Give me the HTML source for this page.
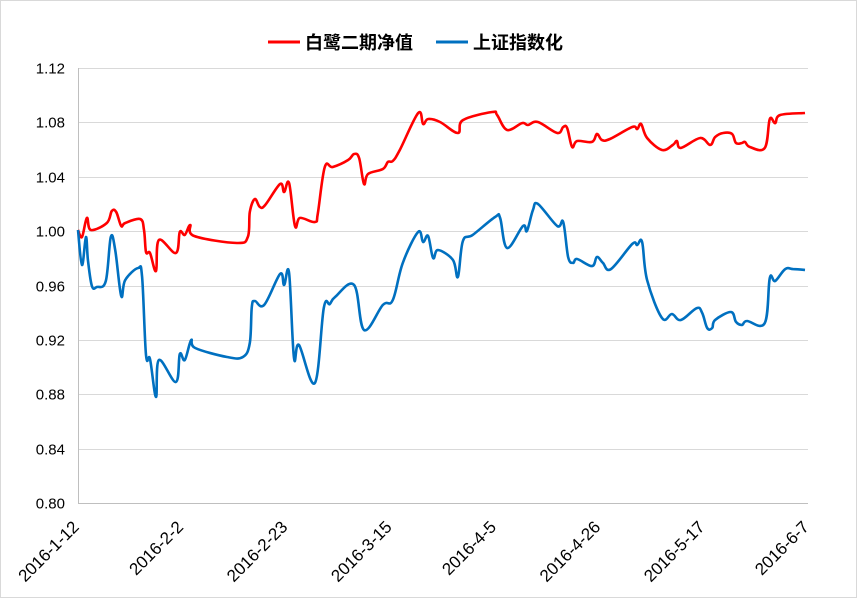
<!DOCTYPE html>
<html><head><meta charset="utf-8"><style>
html,body{margin:0;padding:0;background:#fff}
svg{display:block}
text{font-family:"Liberation Sans","Noto Sans CJK SC",sans-serif}
</style></head><body>
<svg id="chart" width="857" height="598" viewBox="0 0 857 598" xmlns="http://www.w3.org/2000/svg">
<rect x="0.5" y="0.5" width="856" height="597" fill="#fff" stroke="#d9d9d9"/>
<g id="grid"></g>
<g id="yticks"></g>
<g id="xticks"></g>
<g id="series"></g>
<g>
  <g>
    <line x1="268" y1="42" x2="300" y2="42" stroke="#ff0000" stroke-width="3"/>
    <text x="305" y="49" font-size="18" font-weight="bold" fill="#000">白鹭二期净值</text>
  </g>
  <g>
    <line x1="436" y1="42" x2="468" y2="42" stroke="#0070c0" stroke-width="3"/>
    <text x="473" y="49" font-size="18" font-weight="bold" fill="#000">上证指数化</text>
  </g>
</g>
</svg>
<script>
const yTicks = [0.80,0.84,0.88,0.92,0.96,1.00,1.04,1.08,1.12];
const yTickLabels = ["0.80","0.84","0.88","0.92","0.96","1.00","1.04","1.08","1.12"];
const xTickDays = [0,21,42,63,84,105,126,147];
const xTickLabels = ["2016-1-12","2016-2-2","2016-2-23","2016-3-15","2016-4-5","2016-4-26","2016-5-17","2016-6-7"];
const redDays = [0,.8,1.8,2.6,5.8,6.8,7.7,8.7,9.5,12.5,13.3,13.7,14.5,15.7,16.3,19.7,20.5,21.5,22.6,23.4,32.0,34.2,34.6,35.6,36.6,37.7,40.7,41.5,42.5,43.7,44.7,47.7,48.3,49.7,51.3,54.4,55.6,56.6,57.6,58.4,61.4,62.4,63.4,64.8,68.5,69.5,70.5,72.9,76.5,77.5,83.4,84.4,86.4,89.4,90.6,92.6,96.5,97.7,98.5,99.5,100.5,103.5,104.5,105.5,107.1,111.6,112.6,113.4,114.6,117.6,119.8,120.6,121.4,125.3,127.3,128.3,129.9,131.7,132.5,133.7,134.3,135.3,138.3,139.3,140.4,141.4,146.4];
const redValues = [1.0008,.9957,1.0097,1.0008,1.0060,1.0148,1.0141,1.0038,1.0060,1.0089,1.0008,.9846,.9839,.9707,.9935,.9839,.9994,.9972,1.0045,.9964,.9913,.9957,1.0141,1.0236,1.0178,1.0192,1.0347,1.0288,1.0354,1.0038,1.0097,1.0067,1.0133,1.0472,1.0472,1.0523,1.0567,1.0538,1.0347,1.0420,1.0457,1.0509,1.0516,1.0597,1.0869,1.0788,1.0825,1.0803,1.0722,1.0817,1.0876,1.0854,1.0744,1.0795,1.0781,1.0803,1.0722,1.0766,1.0759,1.0619,1.0663,1.0656,1.0715,1.0670,1.0678,1.0766,1.0751,1.0788,1.0685,1.0597,1.0634,1.0663,1.0612,1.0685,1.0634,1.0692,1.0722,1.0715,1.0648,1.0648,1.0656,1.0619,1.0612,1.0825,1.0795,1.0854,1.0869];
const blueDays = [0,.8,1.6,2.0,2.8,3.8,5.6,6.6,7.5,8.7,9.5,12.1,12.9,13.7,14.5,15.7,16.3,19.7,20.5,21.5,22.8,23.6,30.0,33.2,34.6,35.0,35.6,37.5,40.7,41.5,42.5,43.5,44.5,47.7,49.5,50.7,51.8,55.6,57.6,61.4,63.4,65.4,68.5,69.5,70.5,71.5,72.5,75.5,76.5,77.5,79.5,84.0,85.0,86.4,89.6,90.4,91.6,92.6,96.5,97.7,98.7,99.7,100.5,103.5,104.5,105.7,107.3,111.6,112.6,113.6,114.6,117.6,119.6,121.4,124.6,125.7,126.7,127.7,128.3,131.5,132.5,133.7,134.7,138.3,139.3,140.4,142.4,144.0,146.4];
const blueValues = [1.0008,.9751,.9957,.9788,.9596,.9589,.9633,.9957,.9861,.9523,.9640,.9729,.9663,.9089,.9059,.8780,.9052,.8890,.9096,.9052,.9199,.9140,.9074,.9074,.9177,.9442,.9486,.9457,.9685,.9604,.9692,.9067,.9162,.8883,.9435,.9464,.9516,.9604,.9273,.9457,.9493,.9766,.9994,.9920,.9964,.9802,.9861,.9788,.9663,.9927,.9972,1.0104,1.0097,.9876,1.0038,1.0001,1.0155,1.0200,1.0038,1.0067,.9810,.9766,.9795,.9743,.9810,.9766,.9721,.9905,.9898,.9920,.9640,.9361,.9390,.9346,.9434,.9398,.9287,.9287,.9346,.9405,.9332,.9310,.9339,.9324,.9655,.9633,.9721,.9721,.9714];

const X0=78, X1=808, Y0=503, Y1=68, DMAX=147, VMIN=0.80, VMAX=1.12;
const xs = d => X0 + d/DMAX*(X1-X0);
const ys = v => Y0 - (v-VMIN)/(VMAX-VMIN)*(Y0-Y1);
const NS="http://www.w3.org/2000/svg";
function mk(tag, attrs, parent){const e=document.createElementNS(NS,tag);for(const k in attrs)e.setAttribute(k,attrs[k]);parent.appendChild(e);return e;}
const grid=document.getElementById('grid'), yt=document.getElementById('yticks'), xt=document.getElementById('xticks'), ser=document.getElementById('series');
yTicks.forEach((v,i)=>{
  const y=Math.round(ys(v))+0.5;
  if(i>0){const l=mk('line',{x1:X0,x2:X1,y1:y,y2:y,stroke:'#d9d9d9','stroke-width':1},grid);
  
  }
  const t=mk('text',{x:65,y:y+5,'text-anchor':'end','font-size':15,fill:'#000'},yt);
  t.textContent=yTickLabels[i];
  
  
});
const ax=mk('line',{x1:X0+0.5,x2:X0+0.5,y1:Y1,y2:Y0,stroke:'#bfbfbf'},grid);


const bx=mk('line',{x1:X0,x2:X1,y1:Y0+0.5,y2:Y0+0.5,stroke:'#bfbfbf'},grid);


xTickDays.forEach((d,i)=>{
  const x=xs(d);
  const tx=x+2, ty=528;
  const t=mk('text',{x:tx,y:ty,'text-anchor':'end','font-size':17,fill:'#000',transform:`rotate(-45 ${tx} ${ty})`},xt);
  t.textContent=xTickLabels[i];
  
  
});
function smoothPath(days, vals){
  const p=days.map((d,i)=>[xs(d),ys(vals[i])]);
  let s=`M${p[0][0].toFixed(1)},${p[0][1].toFixed(1)}`;
  const k=0.18;
  for(let i=0;i<p.length-1;i++){
    const a=p[Math.max(0,i-1)],b=p[i],c=p[i+1],e=p[Math.min(p.length-1,i+2)];
    const c1=[b[0]+(c[0]-a[0])*k,b[1]+(c[1]-a[1])*k];
    const c2=[c[0]-(e[0]-b[0])*k,c[1]-(e[1]-b[1])*k];
    s+=`C${c1[0].toFixed(1)},${c1[1].toFixed(1)} ${c2[0].toFixed(1)},${c2[1].toFixed(1)} ${c[0].toFixed(1)},${c[1].toFixed(1)}`;
  }
  return s;
}
const r=mk('path',{d:smoothPath(redDays,redValues),fill:'none',stroke:'#ff0000','stroke-width':2.6,'stroke-linejoin':'round'},ser);


const b=mk('path',{d:smoothPath(blueDays,blueValues),fill:'none',stroke:'#0070c0','stroke-width':2.6,'stroke-linejoin':'round'},ser);


</script>
</body></html>
